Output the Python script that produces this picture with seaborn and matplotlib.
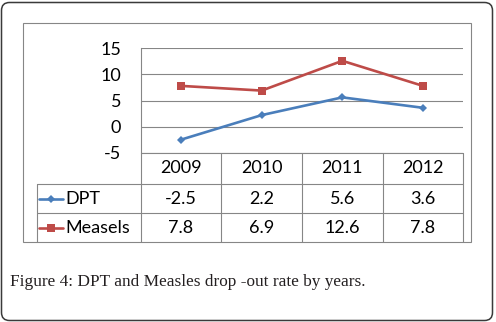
import pandas as pd
import matplotlib
matplotlib.use('Agg')
import matplotlib.pyplot as plt
from matplotlib.patches import FancyBboxPatch, Rectangle
import seaborn as sns

years = ['2009', '2010', '2011', '2012']
dpt = [-2.5, 2.2, 5.6, 3.6]
measles = [7.8, 6.9, 12.6, 7.8]
series = ['DPT', 'Measels']
colors = {'DPT': '#4a7ebb', 'Measels': '#be4b48'}
markers = {'DPT': 'D', 'Measels': 's'}
msizes = {'DPT': 4.5, 'Measels': 6.3}
yticks = [-5, 0, 5, 10, 15]
caption = 'Figure 4: DPT and Measles drop -out rate by years.'

W, H = 496, 322
grid_c = '#868686'
fs = 13

sns.set_theme(style='white')
plt.rcParams['font.family'] = ['Lato', 'DejaVu Sans']
plt.rcParams['axes.unicode_minus'] = False

df = pd.DataFrame({
    'year': list(range(len(years))) * 2,
    'value': dpt + measles,
    'series': [series[0]] * len(dpt) + [series[1]] * len(measles),
})

fig = plt.figure(figsize=(W / 100, H / 100), dpi=100)

# background axes in pixel coordinates for frames, table and caption
bg = fig.add_axes([0, 0, 1, 1])
bg.set_xlim(0, W)
bg.set_ylim(H, 0)
bg.axis('off')


def box(x0, y0, x1, y1):
    return [x0 / W, 1 - y1 / H, (x1 - x0) / W, (y1 - y0) / H]


# plot area
px0, px1 = 140.7, 463.3
py_top, py_bot = 48.3, 152.7
ax = fig.add_axes(box(px0, py_top, px1, py_bot))
ax.patch.set_alpha(0)
for s in series:
    sns.lineplot(data=df[df['series'] == s], x='year', y='value', color=colors[s],
                 marker=markers[s], markersize=msizes[s], markeredgewidth=0,
                 linewidth=1.9, legend=False, ax=ax)
ax.set_xlim(-0.5, len(years) - 0.5)
ax.set_ylim(yticks[0], yticks[-1])
ax.set_yticks(yticks)
ax.set_xticks([])
ax.set_xlabel('')
ax.set_ylabel('')
ax.yaxis.grid(True, color=grid_c, linewidth=0.8)
for side in ['top', 'right', 'bottom']:
    ax.spines[side].set_visible(False)
ax.spines['left'].set_color(grid_c)
ax.spines['left'].set_linewidth(0.8)
ax.tick_params(axis='y', length=0, pad=14, labelsize=fs, labelcolor='black')

# chart frame
bg.add_patch(Rectangle((23, 23.3), 470.7 - 23, 241.7 - 23.3, fill=False,
                       edgecolor=grid_c, linewidth=0.8))

# outer rounded box
bg.add_patch(FancyBboxPatch((1.5, 2.5), 491, 318, boxstyle='round,pad=0,rounding_size=8',
                            fill=False, edgecolor='#3a3a3a', linewidth=1.1))

# data table
col_w = (px1 - px0) / len(years)
row_y = [py_bot, 184, 213.3, 241.7]
lab_x = 36.7
lk = dict(color=grid_c, linewidth=0.8)
bg.plot([px0, px1], [row_y[0], row_y[0]], **lk)
for y in row_y[1:3]:
    bg.plot([lab_x, px1], [y, y], **lk)
for i in range(len(years) + 1):
    x = px0 + i * col_w
    bg.plot([x, x], [row_y[0], row_y[3]], **lk)
bg.plot([lab_x, lab_x], [row_y[1], row_y[3]], **lk)

for i, yr in enumerate(years):
    cx = px0 + (i + 0.5) * col_w
    bg.text(cx, (row_y[0] + row_y[1]) / 2, yr, ha='center', va='center', fontsize=fs, color='black')

values = {'DPT': dpt, 'Measels': measles}
for r, s in enumerate(series):
    cy = (row_y[r + 1] + row_y[r + 2]) / 2
    bg.plot([39.3, 62.7], [cy, cy], color=colors[s], linewidth=1.9)
    bg.plot([51], [cy], color=colors[s], marker=markers[s], markersize=msizes[s], markeredgewidth=0)
    bg.text(65, cy, s, ha='left', va='center', fontsize=fs, color='black')
    for i, v in enumerate(values[s]):
        cx = px0 + (i + 0.5) * col_w
        bg.text(cx, cy, str(v), ha='center', va='center', fontsize=fs, color='black')

bg.text(10, 282, caption, ha='left', va='center', fontsize=12.4, color='#231f20',
        family=['Liberation Serif', 'DejaVu Serif'])

fig.savefig('out.png', dpi=100)
